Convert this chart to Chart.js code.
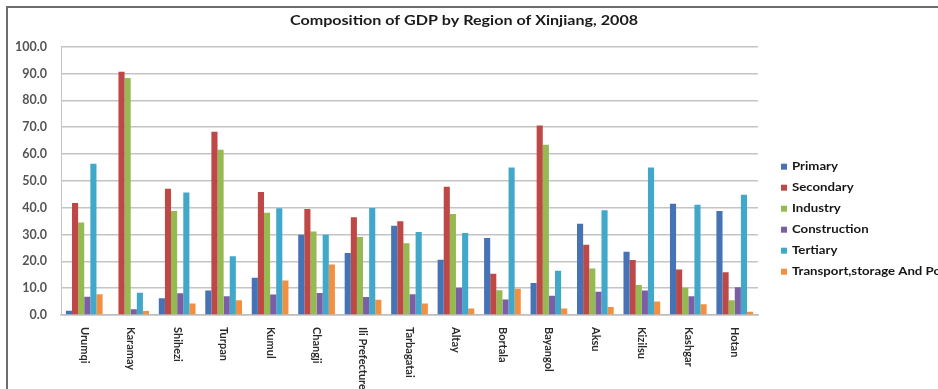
<!DOCTYPE html>
<html>
<head>
<meta charset="utf-8">
<script src="https://cdn.jsdelivr.net/npm/chart.js@4/dist/chart.umd.min.js"></script>
<style>
  html, body { margin: 0; padding: 0; background: #fff; overflow: hidden; width: 938px; height: 389px; }
  #frame {
    position: absolute; left: 6px; top: 6px;
    width: 1000px; height: 420px;
    border-top: 2px solid #6d6d6d; border-left: 2px solid #6d6d6d;
  }
  canvas { display: block; }
</style>
</head>
<body>
<div id="frame"><canvas id="gdp" width="1000" height="420"></canvas></div>
<script>
// Composition of GDP by region of Xinjiang, 2008 (% of regional GDP)
const chartTitle = 'Composition of GDP by Region of Xinjiang, 2008';

const categories = ['Urumqi', 'Karamay', 'Shihezi', 'Turpan', 'Kumul', 'Changji', 'Ili Prefecture',
  'Tarbagatai', 'Altay', 'Bortala', 'Bayangol', 'Aksu', 'Kizilsu', 'Kashgar', 'Hotan'];

const seriesNames = ['Primary', 'Secondary', 'Industry', 'Construction', 'Tertiary', 'Transport,storage And Post'];

const primary      = [1.6, 0.3, 6.2, 9.1, 13.9, 29.9, 23.1, 33.3, 20.6, 28.7, 11.9, 34.0, 23.6, 41.5, 38.8];
const secondary    = [41.7, 90.7, 47.1, 68.3, 45.8, 39.5, 36.4, 34.9, 47.8, 15.4, 70.6, 26.2, 20.5, 17.0, 15.9];
const industry     = [34.5, 88.3, 38.8, 61.6, 38.1, 31.1, 29.1, 26.7, 37.6, 9.2, 63.5, 17.3, 11.2, 10.2, 5.5];
const construction = [6.8, 2.1, 8.1, 7.0, 7.6, 8.2, 6.7, 7.7, 10.2, 5.8, 7.2, 8.7, 9.1, 7.0, 10.3];
const tertiary     = [56.4, 8.3, 45.7, 21.9, 39.8, 29.9, 39.9, 30.9, 30.6, 55.0, 16.5, 39.0, 55.0, 41.1, 44.8];
const transport    = [7.7, 1.5, 4.3, 5.5, 12.9, 18.8, 5.7, 4.3, 2.4, 9.8, 2.4, 3.0, 5.0, 4.0, 1.2];

const seriesValues = [primary, secondary, industry, construction, tertiary, transport];
const seriesColors = ['#4672B6', '#BE4845', '#96BA52', '#7B5EA6', '#42A8C9', '#F39040'];

// Title, rotated region names and the side legend are painted after the chart.
const decorations = {
  id: 'decorations',
  afterDraw(chart) {
    const { ctx, chartArea, scales } = chart;
    ctx.save();

    // title, set slightly wide
    ctx.fillStyle = '#1b1b1b';
    ctx.font = 'bold 14px Lato';
    ctx.textAlign = 'center';
    ctx.textBaseline = 'alphabetic';
    ctx.save();
    ctx.translate(456, 17);
    ctx.scale(1.15, 1);
    ctx.fillText(chartTitle, 0, 0);
    ctx.restore();

    // region names, turned clockwise to read top to bottom
    ctx.font = 'bold 11px Lato';
    ctx.fillStyle = '#2b2b2b';
    ctx.textAlign = 'left';
    ctx.textBaseline = 'middle';
    categories.forEach((name, i) => {
      ctx.save();
      ctx.translate(scales.x.getPixelForValue(i), chartArea.bottom + 12);
      ctx.rotate(Math.PI / 2);
      ctx.fillText(name, 0, 0);
      ctx.restore();
    });

    // legend
    const legendTop = chartArea.top + 120;
    chart.data.datasets.forEach((ds, i) => {
      const y = legendTop + i * 21;
      ctx.fillStyle = ds.backgroundColor;
      ctx.fillRect(chartArea.right + 23, y - 3, 6, 6);
      ctx.fillStyle = '#161616';
      ctx.save();
      ctx.translate(chartArea.right + 34, y);
      ctx.scale(1.2, 1);
      ctx.fillText(ds.label, 0, 0);
      ctx.restore();
    });

    ctx.restore();
  }
};

new Chart(document.getElementById('gdp'), {
  type: 'bar',
  data: {
    labels: categories,
    datasets: seriesNames.map((name, i) => ({
      label: name,
      data: seriesValues[i],
      backgroundColor: seriesColors[i],
      borderWidth: 0,
      categoryPercentage: 0.79,
      barPercentage: 1.0
    }))
  },
  options: {
    responsive: false,
    animation: false,
    devicePixelRatio: 1,
    layout: { padding: { top: 38.7, right: 250, bottom: 113, left: 0 } },
    plugins: {
      legend: { display: false },
      title: { display: false },
      tooltip: { enabled: false }
    },
    scales: {
      x: {
        grid: { display: false, drawTicks: false },
        border: { display: true, color: '#bdbdbd', width: 1.5 },
        ticks: { display: false },
        afterFit(scale) { scale.height = 0; }
      },
      y: {
        min: 0,
        max: 100,
        ticks: {
          stepSize: 10,
          padding: 14,
          color: '#555555',
          font: { family: 'Lato', weight: 'bold', size: 12.5 },
          callback: v => Number(v).toFixed(1)
        },
        grid: { color: '#c4c4c4', lineWidth: 1.5, drawTicks: false },
        border: { display: true, color: '#c4c4c4', width: 1 },
        afterFit(scale) { scale.width = 53; }
      }
    }
  },
  plugins: [decorations]
});
</script>
</body>
</html>
